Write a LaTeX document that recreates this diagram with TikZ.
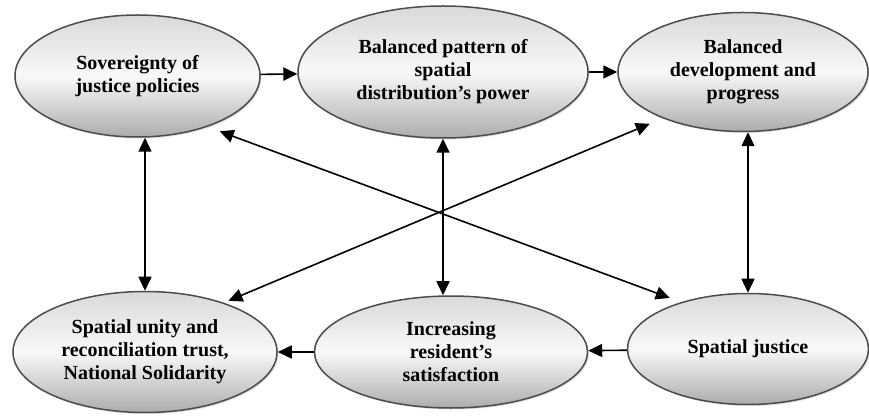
\documentclass[tikz,border=0pt]{standalone}
\usepackage{fontspec}
\setmainfont{Liberation Serif}
\usetikzlibrary{shapes.geometric, positioning, arrows.meta, shadows}

\tikzset{
	factor/.style={ellipse, draw=gray!60!black, line width=1.5pt,
		top color=gray!30, bottom color=gray!65, middle color=gray!5,
		drop shadow={shadow xshift=1.5pt, shadow yshift=-1.5pt, opacity=0.25},
		align=center, inner sep=0pt,
		font=\bfseries\fontsize{20}{23}\selectfont},
	link/.style={line width=1.6pt}
}

\begin{document}
\begin{tikzpicture}[x=1pt, y=1pt, on grid, >={Triangle[length=14pt,width=13pt]}]
\useasboundingbox (0,0) rectangle (869,415);

% Factor nodes
	\node (sov)		[factor, minimum width=245pt, minimum height=122pt] at (137.5,339)	{Sovereignty of \\ justice policies};
	\node (bpat)	[factor, minimum width=290pt, minimum height=132pt, right=305.5pt of sov, yshift=4pt]	{Balanced pattern of \\ spatial \\ distribution’s power};
	\node (bdev)	[factor, minimum width=250pt, minimum height=119pt, right=300pt of bpat]	{Balanced \\ development and \\ progress};

	\node (unity)	[factor, minimum width=264pt, minimum height=121pt, below=276pt of sov, xshift=7.5pt]	{Spatial unity and \\ reconciliation trust, \\ National Solidarity};
	\node (incr)	[factor, minimum width=273pt, minimum height=112pt, right=306pt of unity]	{Increasing \\ resident’s \\ satisfaction};
	\node (sjust)	[factor, minimum width=241pt, minimum height=111pt, right=297pt of incr, yshift=3pt]	{Spatial justice};

% One-way links
	\path[->, link]
		(sov)		edge	(bpat)
		(bpat)		edge	(bdev)
		(sjust)		edge	(incr)
		(incr)		edge	(unity)
	;

% Two-way links
	\path[<->, link]
		(unity.north)	edge	(unity.north |- sov.south)
		(bpat.south)	edge	(bpat.south |- incr.north)
		(sjust.north)	edge	(sjust.north |- bdev.south)
		(sov.-36)		edge[shorten <=13pt, shorten >=12pt]	(sjust.145)
		(unity.32)		edge[shorten <=5pt, shorten >=14pt]		(bdev.210)
	;

\end{tikzpicture}
\end{document}
